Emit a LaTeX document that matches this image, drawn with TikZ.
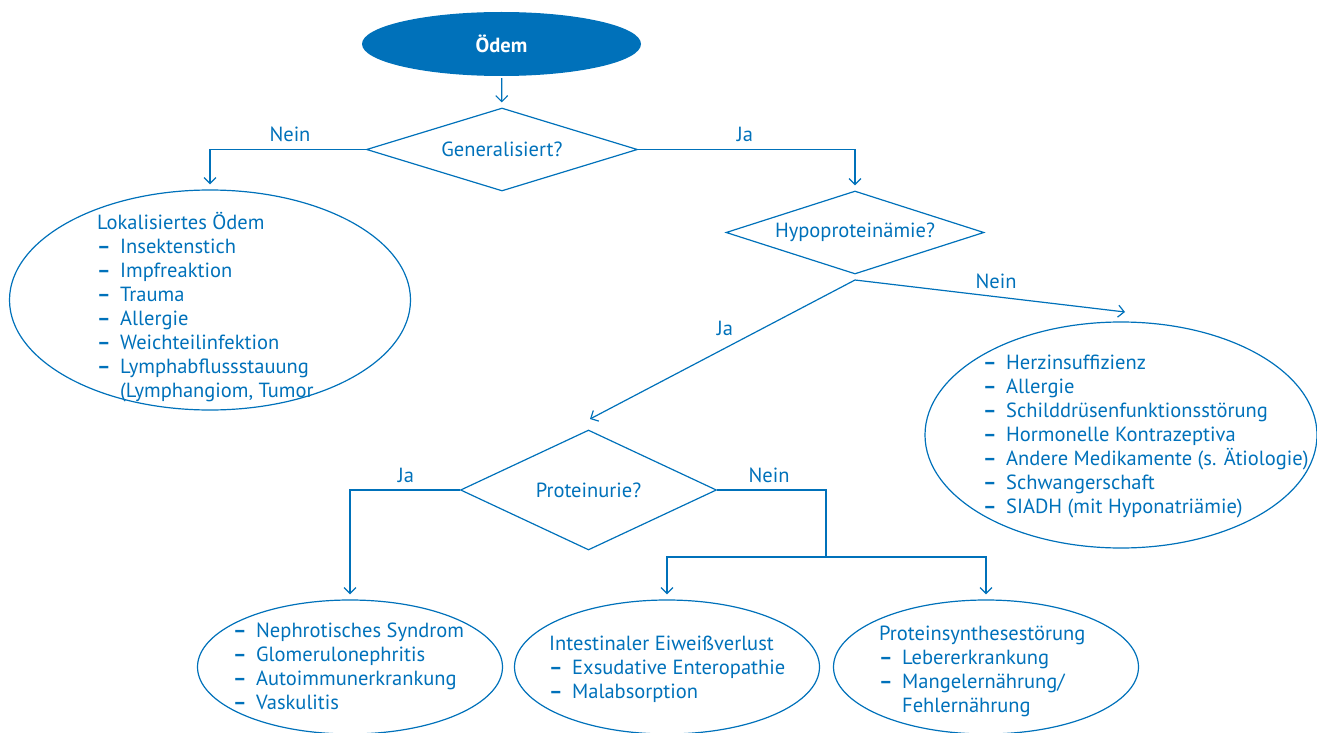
\documentclass[tikz,border=0pt]{standalone}
\usepackage{fontspec}
\setmainfont{PT Sans}
\usetikzlibrary{shapes.geometric, arrows.meta}

\definecolor{flow_blue}{HTML}{0071BA}

\newcommand{\listdash}{\makebox[23pt][l]{\textbf{--}}}

\tikzstyle{start_element}=[ellipse,
                             fill=flow_blue,
                             text=white,
                             minimum width=279,
                             minimum height=64,
                             inner sep=0,
                             font=\fontsize{20.5}{24}\selectfont\bfseries, ]
\tikzstyle{decision_element}=[diamond,
                                draw=flow_blue,
                                line width=1.2pt,
                                inner sep=0,
                                text=flow_blue,
                                font=\fontsize{20.5}{24}\selectfont, ]
\tikzstyle{result_element}=[ellipse,
                              draw=flow_blue,
                              line width=1.2pt,
                              inner sep=0, ]
\tikzstyle{list_text}=[anchor=base west,
                         align=left,
                         inner sep=0,
                         text=flow_blue,
                         font=\fontsize{20.5}{24}\selectfont, ]
\tikzstyle{label_text}=[text=flow_blue,
                          inner sep=0,
                          font=\fontsize{20.5}{24}\selectfont, ]
\tikzstyle{flow_line}=[draw=flow_blue, line width=1.2pt]
\tikzstyle{flow_arrow}=[flow_line,
                          -{Straight Barb[length=6pt, width=12pt]},
                          shorten >=5pt, ]

\begin{document}
\begin{tikzpicture}[x=1pt, y=-1pt]
  \useasboundingbox (0, 0) rectangle (1317, 733);

  % Entscheidungen
  % -------------------------------------------------------------
  \node at (501.5, 44) (odem) [start_element] {Ödem};
  \node at (502, 149.5) (generalisiert) [decision_element, shape aspect=3.2,
    minimum width=271, minimum height=83] {Generalisiert?};
  \node at (855, 232.5) (hypoprotein) [decision_element, shape aspect=3.1,
    minimum width=258, minimum height=83] {Hypoproteinämie?};
  \node at (588.5, 490) (proteinurie) [decision_element, shape aspect=2.1,
    minimum width=256, minimum height=120] {Proteinurie?};

  % Ergebnisse (Text: Grundlinie der letzten Zeile)
  % -------------------------------------------------------------
  \node at (210, 300) (lokal) [result_element, minimum width=401, minimum height=220] {};
  \node at (1121, 435) (andere) [result_element, minimum width=392, minimum height=226] {};
  \foreach \n/\x in {nephro/350, intestinal/667, synthese/986} {
      \node at (\x, 667) (\n) [result_element, minimum width=305, minimum height=134] {};
    }

  \node at (97, 397) (lokal_text) [list_text] {Lokalisiertes Ödem\\
    \listdash Insektenstich\\
    \listdash Impfreaktion\\
    \listdash Trauma\\
    \listdash Allergie\\
    \listdash Weichteilinfektion\\
    \listdash Lymphabflussstauung\\
    \hspace*{23pt}(Lymphangiom, Tumor};
  \node at (983, 513) (andere_text) [list_text] {\listdash Herzinsuffizienz\\
    \listdash Allergie\\
    \listdash Schilddrüsenfunktionsstörung\\
    \listdash Hormonelle Kontrazeptiva\\
    \listdash Andere Medikamente (s. Ätiologie)\\
    \listdash Schwangerschaft\\
    \listdash SIADH (mit Hyponatriämie)};
  \node at (233, 709) (nephro_text) [list_text] {\listdash Nephrotisches Syndrom\\
    \listdash Glomerulonephritis\\
    \listdash Autoimmunerkrankung\\
    \listdash Vaskulitis};
  \node at (549, 698) (intestinal_text) [list_text] {Intestinaler Eiweißverlust\\
    \listdash Exsudative Enteropathie\\
    \listdash Malabsorption};
  \node at (879, 712) (synthese_text) [list_text] {Proteinsynthesestörung\\
    \listdash Lebererkrankung\\
    \listdash Mangelernährung/\\
    \hspace*{23pt}Fehlernährung};

  % Verbindungen
  % -------------------------------------------------------------
  \coordinate (hypo_fork) at (855, 280);
  \coordinate (hypo_nein) at (1125, 312);
  \coordinate (hypo_ja) at (590, 419);
  \coordinate (prot_split) at (826, 557);

  \draw[flow_arrow, shorten <=2pt] (odem) -- (generalisiert);
  \draw[flow_arrow] (generalisiert.west) -| (lokal.north);
  \draw[flow_arrow] (generalisiert.east) -| (hypoprotein.north);
  \draw[flow_arrow, shorten >=0pt] (hypo_fork) -- (hypo_nein);
  \draw[flow_arrow, shorten >=0pt] (hypo_fork) -- (hypo_ja);
  \draw[flow_arrow] (proteinurie.west) -| (nephro.north);
  \draw[flow_line] (proteinurie.east) -| (prot_split);
  \draw[flow_arrow] (prot_split) -| (intestinal.north);
  \draw[flow_arrow] (prot_split) -| (synthese.north);

  % Beschriftungen
  % -------------------------------------------------------------
  \foreach \n/\x/\y/\t in {l_nein/290/134/Nein, l_ja/745/134/Ja, h_nein/996/281/Nein,
                           h_ja/725/328/Ja, p_ja/406/475/Ja, p_nein/769/475/Nein} {
      \node at (\x, \y) (\n) [label_text] {\t};
    }
\end{tikzpicture}
\end{document}
